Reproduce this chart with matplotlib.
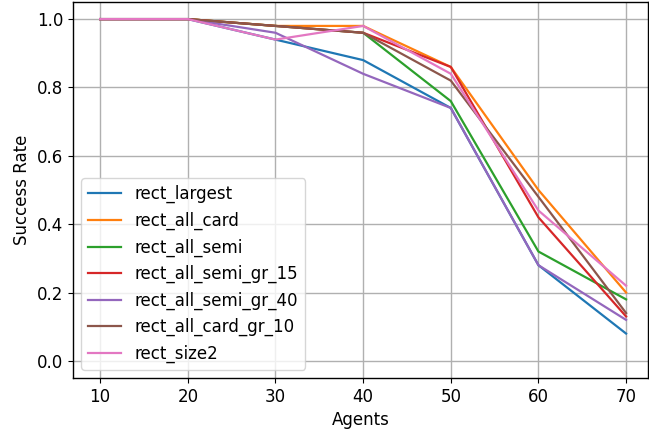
import matplotlib
matplotlib.use("Agg")
import matplotlib.pyplot as plt

agents = [10, 20, 30, 40, 50, 60, 70]

rect_largest = [1.0, 1.0, 0.94, 0.88, 0.74, 0.28, 0.08]
rect_all_card = [1.0, 1.0, 0.98, 0.98, 0.86, 0.50, 0.20]
rect_all_semi = [1.0, 1.0, 0.98, 0.96, 0.76, 0.32, 0.18]
rect_all_semi_gr_15 = [1.0, 1.0, 0.98, 0.96, 0.86, 0.42, 0.13]
rect_all_semi_gr_40 = [1.0, 1.0, 0.96, 0.84, 0.74, 0.28, 0.12]
rect_all_card_gr_10 = [1.0, 1.0, 0.98, 0.96, 0.82, 0.48, 0.14]
rect_size2 = [1.0, 1.0, 0.94, 0.98, 0.84, 0.44, 0.22]

series = [
    ("rect_largest", rect_largest),
    ("rect_all_card", rect_all_card),
    ("rect_all_semi", rect_all_semi),
    ("rect_all_semi_gr_15", rect_all_semi_gr_15),
    ("rect_all_semi_gr_40", rect_all_semi_gr_40),
    ("rect_all_card_gr_10", rect_all_card_gr_10),
    ("rect_size2", rect_size2),
]

plt.rcParams["font.size"] = 12
plt.rcParams["axes.linewidth"] = 1.0
plt.rcParams["grid.linewidth"] = 1.0

fig, ax = plt.subplots(figsize=(6.49, 4.34), dpi=100)
for name, vals in series:
    ax.plot(agents, vals, label=name, linewidth=1.6)

ax.set_xlabel("Agents")
ax.set_ylabel("Success Rate")
ax.set_xlim(6.9, 72.5)
ax.set_ylim(-0.05, 1.05)
ax.grid(True)
ax.legend(loc="lower left")
fig.subplots_adjust(left=73 / 649, right=648 / 649, top=1 - 2 / 434, bottom=1 - 378 / 434)
fig.savefig("out.png", dpi=100)
